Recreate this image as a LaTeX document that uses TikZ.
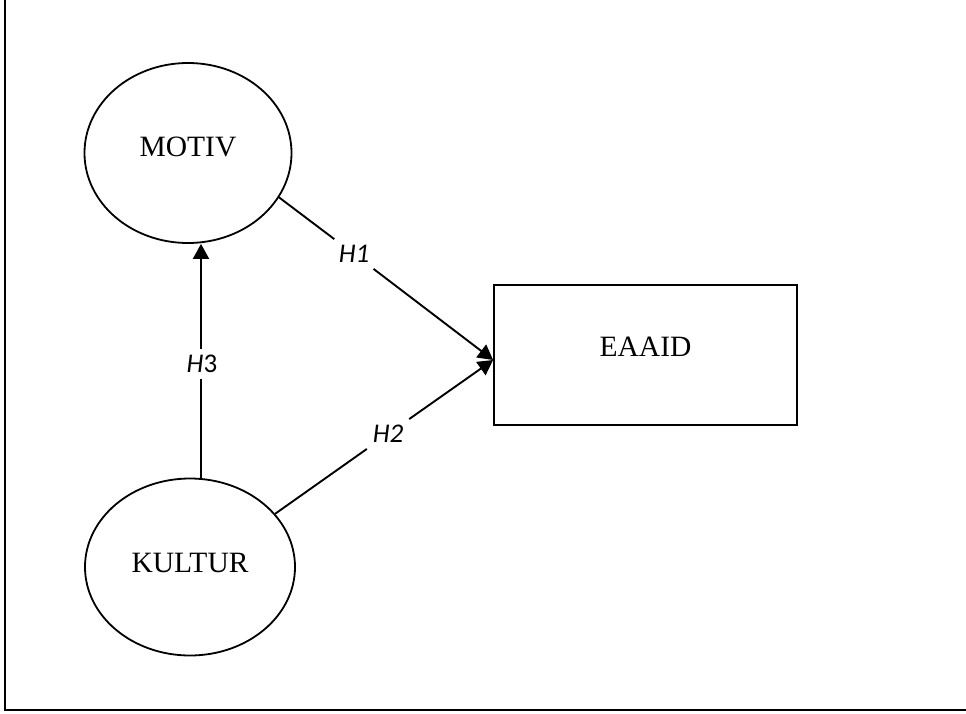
\documentclass[tikz,border=0pt]{standalone}
\usepackage{fontspec}
\setmainfont{Liberation Serif}
\newfontfamily\labelfont{Carlito}
\usetikzlibrary{shapes.geometric,arrows.meta}
\begin{document}
\begin{tikzpicture}[x=1pt,y=-1pt,
  construct/.style={draw,line width=1.8pt,ellipse,inner sep=0pt,
    minimum width=207pt,minimum height=180pt},
  outcome/.style={draw,line width=1.8pt,rectangle,inner sep=0pt,
    minimum width=303pt,minimum height=140pt},
  name text/.style={font=\fontsize{29.5}{34}\selectfont},
  hyp/.style={font=\labelfont\fontsize{27}{32}\selectfont,inner sep=6pt},
  path/.style={line width=1.9pt},
  tipped/.style={path,-{Triangle[length=15pt,width=16pt]}}]
  \useasboundingbox (0,0) rectangle (966,714);
  \clip (0,0) rectangle (966,714);
  % outer frame
  \draw[line width=2.4pt] (5,-20) rectangle (1000,710);
  % constructs
  \node[construct,label={[name text,yshift=6pt]center:MOTIV}] (motiv) at (188,153) {};
  \node[construct,minimum width=210pt,minimum height=177pt,
        label={[name text,yshift=4pt]center:KULTUR}] (kultur) at (190,567) {};
  \node[outcome,label={[name text,yshift=8pt]center:EAAID}] (eaaid) at (645.5,355) {};
  \coordinate (tip) at ([yshift=-5pt]eaaid.west);
  % hypothesis labels
  \node[hyp] (h1) at (354,254) {\itshape H1};
  \node[hyp] (h2) at (388,434) {\itshape H2};
  \node[hyp] (h3) at (202,364) {\textit{H}3};
  % paths
  \draw[path] (motiv.-26) -- (h1);
  \draw[tipped] (h1) -- (tip);
  \draw[path] (kultur.32) -- (h2);
  \draw[tipped] (h2) -- (tip);
  \draw[path] (201,0 |- kultur.north) -- (201,0 |- h3.south);
  \draw[tipped] (201,0 |- h3.north) -- (201,0 |- motiv.south);
\end{tikzpicture}
\end{document}
